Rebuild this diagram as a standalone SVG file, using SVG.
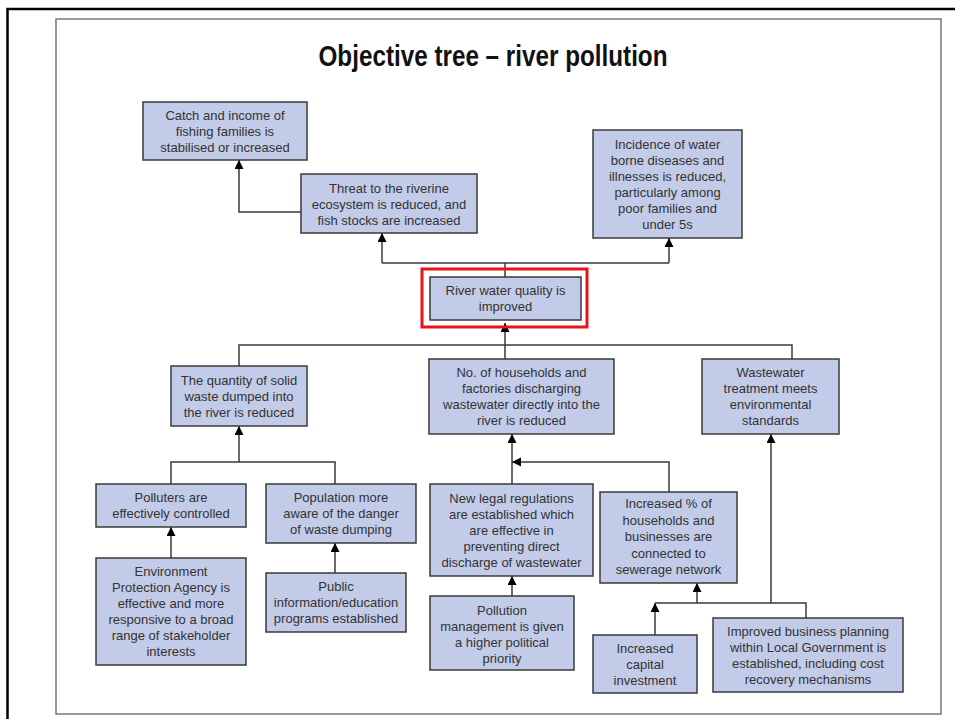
<svg xmlns="http://www.w3.org/2000/svg" width="955" height="719" viewBox="0 0 955 719">
  <style>
    .box { fill: #c2cbe8; stroke: #3a3a3a; stroke-width: 1.5; }
    .lbl { font-family: "Liberation Sans", Arial, sans-serif; font-size: 13px; fill: #333; text-anchor: middle; }
    .wire { fill: none; stroke: #3a3a3a; stroke-width: 1.5; }
    .arr { marker-end: url(#head); }
    .title { font-family: "Liberation Sans", Arial, sans-serif; font-size: 29px; font-weight: bold; fill: #111; text-anchor: middle; }
  </style>
  <defs>
    <marker id="head" markerUnits="userSpaceOnUse" markerWidth="10" markerHeight="10" refX="9" refY="4.5" orient="auto">
      <path d="M0,0 L9,4.5 L0,9 z" fill="#000"/>
    </marker>
  </defs>

  <rect width="955" height="719" fill="#fff"/>
  <!-- page frames -->
  <path d="M7.5,719 V9 H955" fill="none" stroke="#000" stroke-width="2.5"/>
  <rect x="56" y="19" width="885" height="695" fill="none" stroke="#777" stroke-width="1.5"/>

  <text class="title" x="493" y="66" textLength="349" lengthAdjust="spacingAndGlyphs">Objective tree – river pollution</text>

  <!-- connectors -->
  <g id="connectors">
    <path class="wire arr" d="M301,212 H239 V160"/>
    <path class="wire" d="M505,277 V263 M382,263 H669"/>
    <path class="wire arr" d="M382,263 V233"/>
    <path class="wire arr" d="M669,263 V238"/>
    <path class="wire" d="M239,366 V345 H792 V359"/>
    <path class="wire arr" d="M505,359 V323"/>
    <path class="wire arr" d="M239,462 V426"/>
    <path class="wire" d="M171,484 V462 H335 V484"/>
    <path class="wire arr" d="M171,558 V527"/>
    <path class="wire arr" d="M335,573 V543"/>
    <path class="wire arr" d="M512,484 V434"/>
    <path class="wire arr" d="M669,492 V462 H512"/>
    <path class="wire arr" d="M512,596 V576"/>
    <path class="wire arr" d="M697,603 V583"/>
    <path class="wire arr" d="M655,635 V603"/>
    <path class="wire" d="M655,603 H806 V618"/>
    <path class="wire arr" d="M771,603 V434"/>
  </g>

  <g id="catch">
    <rect class="box" x="143" y="102" width="164" height="58"/>
    <text class="lbl" y="119.5"><tspan x="225">Catch and income of</tspan><tspan x="225" dy="16">fishing families is</tspan><tspan x="225" dy="16">stabilised or increased</tspan></text>
  </g>
  <g id="threat">
    <rect class="box" x="301" y="174" width="176" height="59"/>
    <text class="lbl" y="192.5"><tspan x="389">Threat to the riverine</tspan><tspan x="389" dy="16">ecosystem is reduced, and</tspan><tspan x="389" dy="16">fish stocks are increased</tspan></text>
  </g>
  <g id="incidence">
    <rect class="box" x="593" y="130" width="149" height="108"/>
    <text class="lbl" y="149"><tspan x="667.5">Incidence of water</tspan><tspan x="667.5" dy="16">borne diseases and</tspan><tspan x="667.5" dy="16">illnesses is reduced,</tspan><tspan x="667.5" dy="16">particularly among</tspan><tspan x="667.5" dy="16">poor families and</tspan><tspan x="667.5" dy="16">under 5s</tspan></text>
  </g>
  <g id="river">
    <rect class="box" x="430" y="277" width="151" height="43"/>
    <rect x="422" y="269" width="165" height="58" fill="none" stroke="#e8141b" stroke-width="3"/>
    <text class="lbl" y="295"><tspan x="505.5">River water quality is</tspan><tspan x="505.5" dy="16">improved</tspan></text>
  </g>
  <g id="solid-waste">
    <rect class="box" x="171" y="366" width="136" height="60"/>
    <text class="lbl" y="384.5"><tspan x="239">The quantity of solid</tspan><tspan x="239" dy="16">waste dumped into</tspan><tspan x="239" dy="16">the river is reduced</tspan></text>
  </g>
  <g id="discharge">
    <rect class="box" x="429" y="359" width="185" height="75"/>
    <text class="lbl" y="377"><tspan x="521.5">No. of households and</tspan><tspan x="521.5" dy="16">factories discharging</tspan><tspan x="521.5" dy="16">wastewater directly into the</tspan><tspan x="521.5" dy="16">river is reduced</tspan></text>
  </g>
  <g id="treatment">
    <rect class="box" x="702" y="359" width="137" height="75"/>
    <text class="lbl" y="377"><tspan x="770.5">Wastewater</tspan><tspan x="770.5" dy="16">treatment meets</tspan><tspan x="770.5" dy="16">environmental</tspan><tspan x="770.5" dy="16">standards</tspan></text>
  </g>
  <g id="polluters">
    <rect class="box" x="96" y="484" width="150" height="43"/>
    <text class="lbl" y="502"><tspan x="171">Polluters are</tspan><tspan x="171" dy="16">effectively controlled</tspan></text>
  </g>
  <g id="awareness">
    <rect class="box" x="266" y="484" width="150" height="59"/>
    <text class="lbl" y="502"><tspan x="341">Population more</tspan><tspan x="341" dy="16">aware of the danger</tspan><tspan x="341" dy="16">of waste dumping</tspan></text>
  </g>
  <g id="epa">
    <rect class="box" x="96" y="558" width="150" height="107"/>
    <text class="lbl" y="575.5"><tspan x="171">Environment</tspan><tspan x="171" dy="16">Protection Agency is</tspan><tspan x="171" dy="16">effective and more</tspan><tspan x="171" dy="16">responsive to a broad</tspan><tspan x="171" dy="16">range of stakeholder</tspan><tspan x="171" dy="16">interests</tspan></text>
  </g>
  <g id="education">
    <rect class="box" x="266" y="573" width="140" height="59"/>
    <text class="lbl" y="591"><tspan x="336">Public</tspan><tspan x="336" dy="16">information/education</tspan><tspan x="336" dy="16">programs established</tspan></text>
  </g>
  <g id="regulations">
    <rect class="box" x="430" y="484" width="163" height="92"/>
    <text class="lbl" y="502.5"><tspan x="511.5">New legal regulations</tspan><tspan x="511.5" dy="16">are established which</tspan><tspan x="511.5" dy="16">are effective in</tspan><tspan x="511.5" dy="16">preventing direct</tspan><tspan x="511.5" dy="16">discharge of wastewater</tspan></text>
  </g>
  <g id="priority">
    <rect class="box" x="430" y="596" width="144" height="74"/>
    <text class="lbl" y="614.5"><tspan x="502">Pollution</tspan><tspan x="502" dy="16">management is given</tspan><tspan x="502" dy="16">a higher political</tspan><tspan x="502" dy="16">priority</tspan></text>
  </g>
  <g id="sewerage">
    <rect class="box" x="600" y="492" width="137" height="91"/>
    <text class="lbl" y="508"><tspan x="668.5">Increased % of</tspan><tspan x="668.5" dy="16.5">households and</tspan><tspan x="668.5" dy="16.5">businesses are</tspan><tspan x="668.5" dy="16.5">connected to</tspan><tspan x="668.5" dy="16.5">sewerage network</tspan></text>
  </g>
  <g id="capital">
    <rect class="box" x="593" y="635" width="104" height="58"/>
    <text class="lbl" y="652.5"><tspan x="645">Increased</tspan><tspan x="645" dy="16">capital</tspan><tspan x="645" dy="16">investment</tspan></text>
  </g>
  <g id="planning">
    <rect class="box" x="713" y="618" width="190" height="74"/>
    <text class="lbl" y="635.5"><tspan x="808">Improved business planning</tspan><tspan x="808" dy="16">within Local Government is</tspan><tspan x="808" dy="16">established, including cost</tspan><tspan x="808" dy="16">recovery mechanisms</tspan></text>
  </g>
</svg>
